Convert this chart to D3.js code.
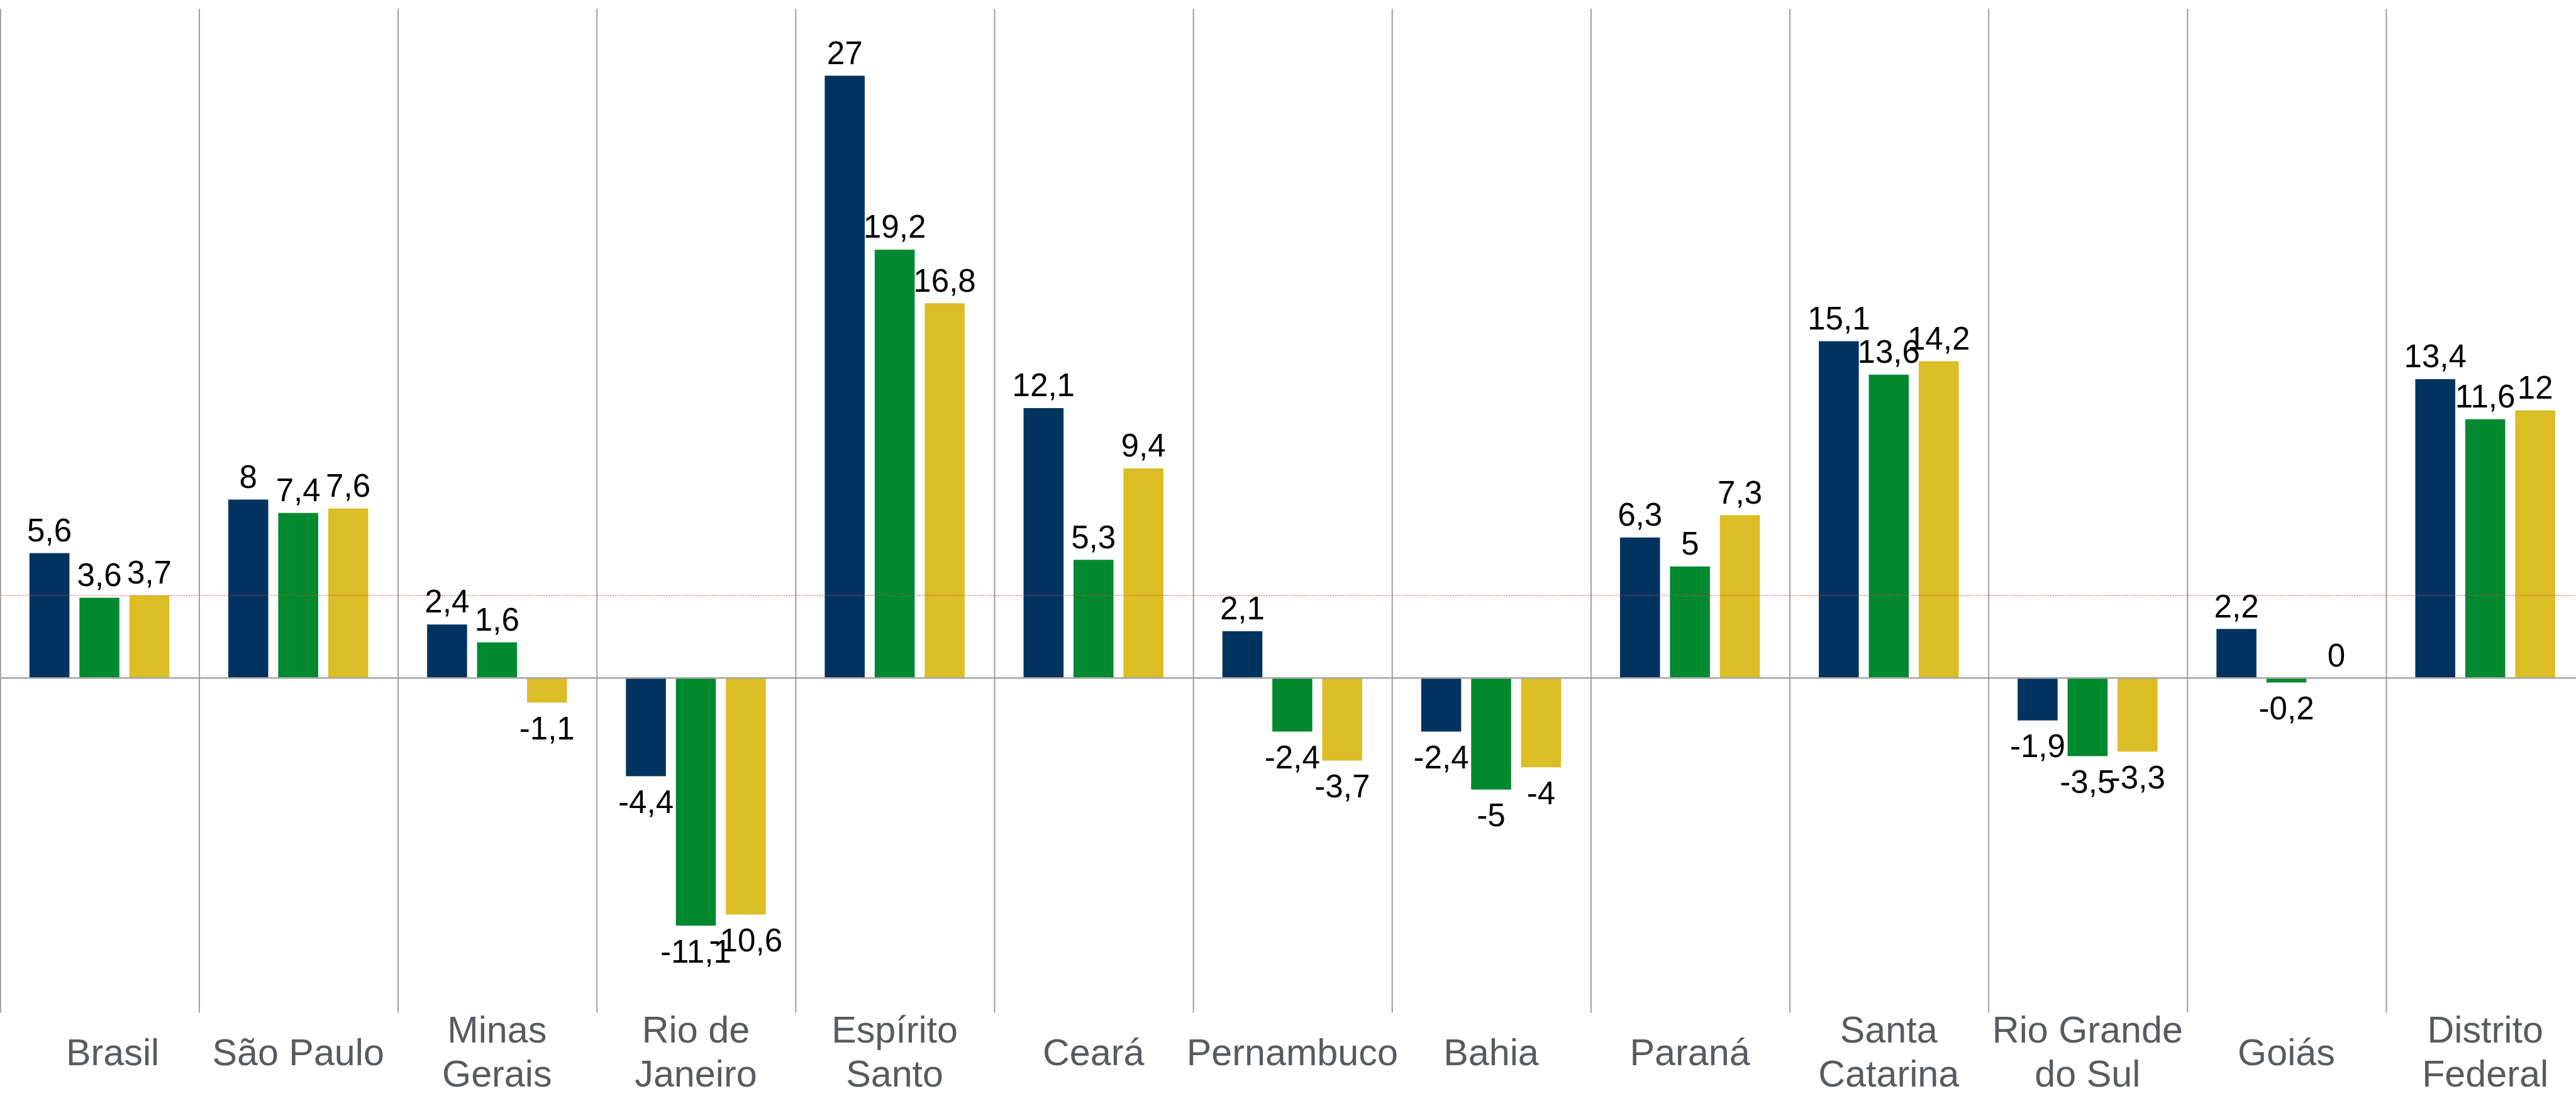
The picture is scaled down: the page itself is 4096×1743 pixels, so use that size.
<!DOCTYPE html>
<html>
<head>
<meta charset="utf-8">
<script src="https://cdn.jsdelivr.net/npm/d3@7/dist/d3.min.js"></script>
<style>
  html, body { margin: 0; padding: 0; background: #fff; overflow: hidden; }
  svg { display: block; }
</style>
</head>
<body>
<svg id="chart"></svg>
<script>
// data
var categories = ["Brasil", "São Paulo", "Minas Gerais", "Rio de Janeiro", "Espírito Santo", "Ceará",
                  "Pernambuco", "Bahia", "Paraná", "Santa Catarina", "Rio Grande do Sul", "Goiás", "Distrito Federal"];
var tickLabels = [["Brasil"], ["São Paulo"], ["Minas", "Gerais"], ["Rio de", "Janeiro"], ["Espírito", "Santo"], ["Ceará"],
                  ["Pernambuco"], ["Bahia"], ["Paraná"], ["Santa", "Catarina"], ["Rio Grande", "do Sul"], ["Goiás"], ["Distrito", "Federal"]];
var serie1 = [5.6, 8, 2.4, -4.4, 27, 12.1, 2.1, -2.4, 6.3, 15.1, -1.9, 2.2, 13.4];
var serie2 = [3.6, 7.4, 1.6, -11.1, 19.2, 5.3, -2.4, -5, 5, 13.6, -3.5, -0.2, 11.6];
var serie3 = [3.7, 7.6, -1.1, -10.6, 16.8, 9.4, -3.7, -4, 7.3, 14.2, -3.3, 0, 12];
var refValue = 3.7; // red dotted reference line
var seriesColors = ["#00335f", "#00892e", "#dbbd25"];

// drawn in the reference's own pixel size, viewBox brings it down to the window
var W = 5044, H = 2146;
var svg = d3.select("#chart")
    .attr("width", 4096)
    .attr("height", 1743)
    .attr("viewBox", "0 0 " + W + " " + H);

var plotTop = 17, plotBottom = 1983;
var catWidth = 389.3;

var x0 = d3.scaleBand()
    .domain(categories)
    .range([0, catWidth * categories.length]);

var x1 = d3.scaleBand()
    .domain([0, 1, 2])
    .range([0, x0.bandwidth()])
    .paddingInner(0.2)
    .paddingOuter(0.59);

var y = d3.scaleLinear()
    .domain([-15, 30])
    .range([plotBottom, plotTop]);

var allSeries = [serie1, serie2, serie3];

// table for the bars
var rows = [];
categories.forEach(function(c, i) {
    allSeries.forEach(function(s, k) {
        rows.push({cat: c, k: k, v: s[i]});
    });
});

// category separators
svg.append("g")
    .selectAll("line")
    .data(categories)
    .enter().append("line")
    .attr("x1", function(d) { return x0(d) + 1; })
    .attr("x2", function(d) { return x0(d) + 1; })
    .attr("y1", plotTop)
    .attr("y2", plotBottom)
    .attr("stroke", "#a0a0a0")
    .attr("stroke-width", 2.5);

// bars
svg.append("g")
    .selectAll("rect")
    .data(rows)
    .enter().append("rect")
    .attr("x", function(d) { return x0(d.cat) + x1(d.k); })
    .attr("width", x1.bandwidth())
    .attr("y", function(d) { return Math.min(y(d.v), y(0)); })
    .attr("height", function(d) { return Math.abs(y(d.v) - y(0)); })
    .attr("fill", function(d) { return seriesColors[d.k]; });

// zero line
svg.append("line")
    .attr("x1", 0)
    .attr("x2", W)
    .attr("y1", y(0))
    .attr("y2", y(0))
    .attr("stroke", "#a6a6a6")
    .attr("stroke-width", 3);

// reference line
svg.append("line")
    .attr("x1", 4)
    .attr("x2", W)
    .attr("y1", y(refValue))
    .attr("y2", y(refValue))
    .attr("stroke", "#e04848")
    .attr("stroke-opacity", 0.6)
    .attr("stroke-width", 2)
    .attr("stroke-dasharray", "3,2");

// value labels
svg.append("g")
    .selectAll("text")
    .data(rows)
    .enter().append("text")
    .attr("x", function(d) { return x0(d.cat) + x1(d.k) + x1.bandwidth() / 2; })
    .attr("y", function(d) { return d.v >= 0 ? y(d.v) - 23 : y(d.v) + 72; })
    .attr("text-anchor", "middle")
    .attr("font-family", "'Liberation Sans', Arial, sans-serif")
    .attr("font-size", 63)
    .attr("fill", "#000")
    .text(function(d) { return String(d.v).replace(".", ","); });

// category labels
var lab = svg.append("g")
    .selectAll("text")
    .data(categories)
    .enter().append("text")
    .attr("text-anchor", "middle")
    .attr("font-family", "'Liberation Sans', Arial, sans-serif")
    .attr("font-size", 73)
    .attr("fill", "#575b61");

lab.each(function(c, i) {
    var lines = tickLabels[i];
    var t = d3.select(this);
    var first = lines.length == 1 ? 2086 : 2041;
    // the first label sits a bit right of its band in the original
    var shift = i == 0 ? 26 : 0;
    lines.forEach(function(l, j) {
        t.append("tspan")
            .attr("x", x0(c) + x0.bandwidth() / 2 + shift)
            .attr("y", first + j * 87)
            .text(l);
    });
});
</script>
</body>
</html>
